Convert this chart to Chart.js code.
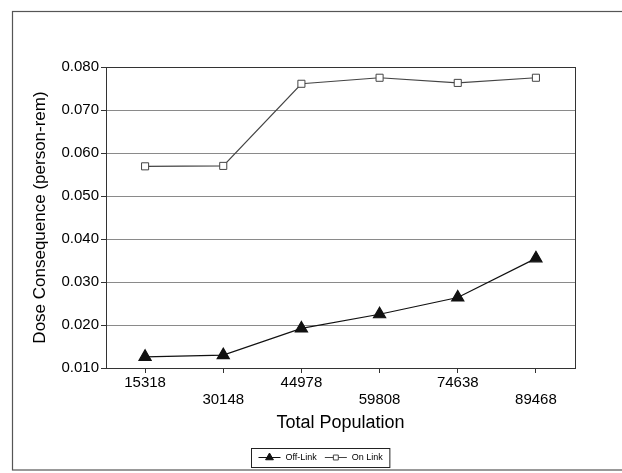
<!DOCTYPE html>
<html>
<head>
<meta charset="utf-8">
<title>Dose Consequence vs Total Population</title>
<script src="https://cdn.jsdelivr.net/npm/chart.js@4.4.1/dist/chart.umd.min.js"></script>
<style>
  html, body { margin: 0; padding: 0; background: #fff; }
  canvas { display: block; }
</style>
</head>
<body>
<canvas id="doseChart" width="622" height="473"></canvas>
<script>
// ---------- data ----------
const populations = ["15318", "30148", "44978", "59808", "74638", "89468"];
const offLink = [0.0126, 0.0130, 0.0192, 0.0225, 0.0264, 0.0355];
const onLink = [0.0569, 0.0570, 0.0761, 0.0775, 0.0763, 0.0775];
const yTicks = [0.010, 0.020, 0.030, 0.040, 0.050, 0.060, 0.070, 0.080];

const FONT = "Arial, 'Liberation Sans', sans-serif";

// white page + outer frame + plot box
const framePlugin = {
    id: "frame",
    beforeDraw(chart) {
        const ctx = chart.ctx;
        ctx.save();
        ctx.fillStyle = "#fff";
        ctx.fillRect(0, 0, chart.width, chart.height);
        ctx.restore();
    },
    afterDraw(chart) {
        const ctx = chart.ctx;
        const a = chart.chartArea;
        ctx.save();
        ctx.strokeStyle = "#555";
        ctx.lineWidth = 1.2;
        ctx.strokeRect(12.5, 11.5, 640, 458.5);
        ctx.strokeStyle = "#333";
        ctx.lineWidth = 1;
        ctx.strokeRect(a.left + 0.5, a.top + 0.5, a.right - a.left, a.bottom - a.top);
        ctx.restore();
    }
};

// boxed legend with line + marker samples
const boxLegend = {
    id: "boxLegend",
    afterDraw(chart) {
        const ctx = chart.ctx;
        const sets = chart.data.datasets;
        const lineLen = 22, gap = 5, itemGap = 8, pad = 7;
        ctx.save();
        ctx.font = "9px " + FONT;
        const widths = sets.map(d => lineLen + gap + ctx.measureText(d.label).width);
        const total = widths.reduce((s, w) => s + w, 0) + itemGap * (sets.length - 1) + pad * 2;
        const cx = 320.5, cy = 457.5;
        const left = Math.round(cx - total / 2) + 0.5;
        ctx.strokeStyle = "#222";
        ctx.lineWidth = 1;
        ctx.strokeRect(left, 448.5, total, 19);
        let x = left + pad;
        sets.forEach((d, i) => {
            ctx.strokeStyle = d.borderColor;
            ctx.lineWidth = 1;
            ctx.beginPath();
            ctx.moveTo(x, cy);
            ctx.lineTo(x + lineLen, cy);
            ctx.stroke();
            ctx.fillStyle = d.pointBackgroundColor;
            ctx.strokeStyle = d.pointBorderColor;
            const r = d.pointStyle === "triangle" ? 4.5 : 3.5;
            Chart.helpers.drawPoint(ctx, { pointStyle: d.pointStyle, radius: r, borderWidth: 1, rotation: 0 }, x + lineLen / 2, cy);
            ctx.fillStyle = "#000";
            ctx.textBaseline = "middle";
            ctx.textAlign = "left";
            ctx.fillText(d.label, x + lineLen + gap, cy + 0.5);
            x += widths[i] + itemGap;
        });
        ctx.restore();
    }
};

new Chart(document.getElementById("doseChart"), {
    type: "line",
    data: {
        labels: populations,
        datasets: [{
            label: "Off-Link",
            data: offLink,
            borderColor: "#111",
            borderWidth: 1.2,
            pointStyle: "triangle",
            pointRadius: 7,
            pointBackgroundColor: "#111",
            pointBorderColor: "#111",
            tension: 0
        }, {
            label: "On Link",
            data: onLink,
            borderColor: "#444",
            borderWidth: 1.2,
            pointStyle: "rect",
            pointRadius: 5,
            pointBackgroundColor: "#fff",
            pointBorderColor: "#444",
            pointBorderWidth: 1,
            tension: 0
        }]
    },
    options: {
        responsive: false,
        animation: false,
        devicePixelRatio: 1,
        layout: { padding: { top: 67, left: 12, right: 47, bottom: 39 } },
        plugins: {
            legend: { display: false },
            tooltip: { enabled: false }
        },
        scales: {
            x: {
                type: "category",
                offset: true,
                afterFit: s => { s.height = 66; },
                border: { display: false },
                grid: {
                    offset: false,
                    drawOnChartArea: false,
                    tickLength: 5,
                    tickColor: "#333"
                },
                ticks: {
                    autoSkip: false,
                    maxRotation: 0,
                    padding: 1,
                    color: "#000",
                    font: { family: FONT, size: 15, lineHeight: 1.15 },
                    callback: function (v, i) {
                        const lbl = this.getLabelForValue(v);
                        return i % 2 === 1 ? ["", lbl] : lbl;
                    }
                },
                title: {
                    display: true,
                    text: "Total Population",
                    color: "#000",
                    padding: { top: 0, bottom: 0 },
                    font: { family: FONT, size: 18 }
                }
            },
            y: {
                min: yTicks[0],
                max: yTicks[yTicks.length - 1],
                afterFit: s => { s.width = 94; },
                afterBuildTicks: s => { s.ticks = yTicks.map(v => ({ value: v })); },
                border: { display: false },
                grid: {
                    color: "#8a8a8a",
                    lineWidth: 1,
                    tickLength: 5,
                    tickColor: "#333"
                },
                ticks: {
                    padding: 2,
                    color: "#000",
                    font: { family: FONT, size: 15 },
                    callback: v => v.toFixed(3)
                },
                title: {
                    display: true,
                    text: "Dose Consequence (person-rem)",
                    color: "#000",
                    padding: { top: 18, bottom: 0 },
                    font: { family: FONT, size: 17 }
                }
            }
        }
    },
    plugins: [framePlugin, boxLegend]
});
</script>
</body>
</html>
